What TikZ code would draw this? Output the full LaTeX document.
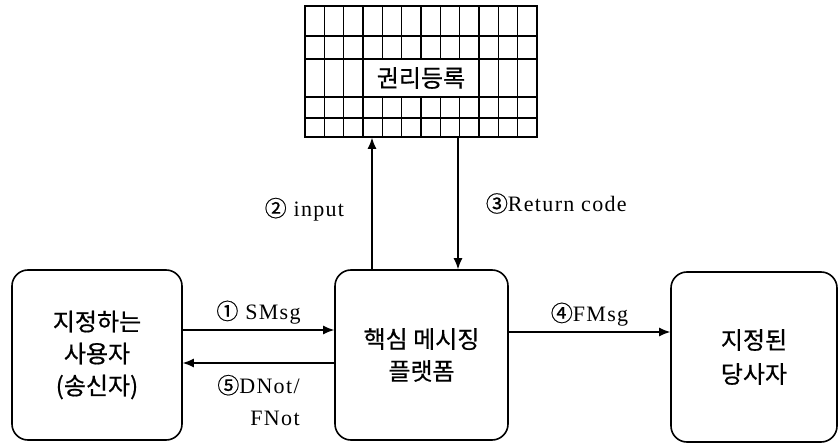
\documentclass[tikz,border=0pt]{standalone}
\usepackage{fontspec}
\setmainfont{Liberation Serif}
\newfontfamily\kor{Noto Sans CJK KR}[FakeBold=0.6]
\newfontfamily\msgfont{Liberation Serif}[LetterSpace=6]
\usetikzlibrary{arrows.meta}

\newcommand{\cnum}[1]{{\kor #1}}

\tikzstyle{box} = [rectangle, rounded corners=16pt, draw=black, line width=1.6pt, minimum width=170pt, minimum height=170pt, align=center, font=\kor\fontsize{24}{32}\selectfont]
\tikzstyle{arrow} = [line width=1.2pt,-{Latex[length=11pt,width=9pt]}]
\tikzstyle{msg} = [font=\msgfont\fontsize{22}{32}\selectfont, align=center]
\tikzstyle{cell} = [line width=1.6pt]

\begin{document}
\begin{tikzpicture}[x=1pt,y=-1pt]
    \useasboundingbox (0,0) rectangle (838,443);
    \node (sender) [box] at (97,355) {지정하는\\사용자\\(송신자)};
    \node (platform) [box, minimum width=173pt] at (421.5,355) {핵심 메시징\\플랫폼};
    \node (party) [box, minimum width=166pt, font=\kor\fontsize{24}{34}\selectfont] at (754,357) {지정된\\당사자};

    % rights registry grid
    \node (registry) [draw, cell, minimum width=232pt, minimum height=131pt] at (421,71.5) {};
    \foreach \i in {1,...,11} {
        \draw [cell] (305+\i*19.33,6) -- (305+\i*19.33,59);
        \draw [cell] (305+\i*19.33,97) -- (305+\i*19.33,137);
    }
    \foreach \i in {1,2,3,9,10,11}
        \draw [cell] (305+\i*19.33,59) -- (305+\i*19.33,97);
    \foreach \y in {36,59,97,118}
        \draw [cell] (305,\y) -- (537,\y);
    \node (regtext) [font=\kor\fontsize{24}{28}\selectfont] at (421,78) {권리등록};

    \draw [arrow] ([yshift=25pt]sender.east) -- node[msg, above=2pt] {\cnum{①} SMsg} ([yshift=25pt]platform.west);
    \draw [arrow] ([yshift=-8pt]platform.west) -- node[msg, below=8pt, align=right] {\cnum{⑤}DNot/\\FNot\hspace{6pt}} ([yshift=-8pt]sender.east);
    \draw [arrow] ([yshift=23pt]platform.east) -- node[msg, above=2pt] {\cnum{④}FMsg} ([yshift=23pt]platform.east -| party.west);
    \draw [arrow] ([xshift=-49.5pt]platform.north) -- node[msg, left=24pt, yshift=-6pt] {\cnum{②} input} ([xshift=-49.5pt]platform.north |- registry.south);
    \draw [arrow] ([xshift=36.5pt]platform.north |- registry.south) -- node[msg, right=24pt] {\cnum{③}Return code} ([xshift=36.5pt]platform.north);

\end{tikzpicture}
\end{document}
